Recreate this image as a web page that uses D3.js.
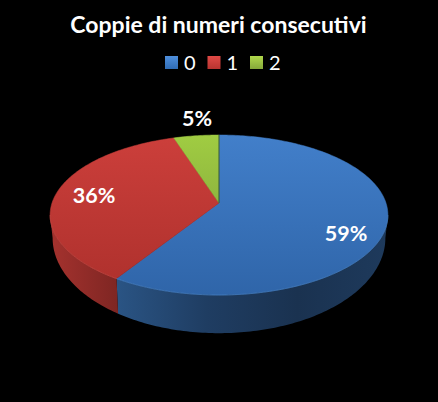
<!DOCTYPE html>
<html>
<head>
<meta charset="utf-8">
<script src="https://cdn.jsdelivr.net/npm/d3@7"></script>
<style>
  html, body { margin: 0; padding: 0; background: #000; }
  svg { display: block; }
  text { font-family: Lato, "Open Sans", sans-serif; fill: #fff; }
</style>
</head>
<body>
<svg id="chart"></svg>
<script>
// Chart values
const categories = ["0", "1", "2"];
const percentages = [59, 36, 5];
const chartTitle = "Coppie di numeri consecutivi";

// Colours per slice: top light, top dark, wall stops
const topColors = [["#427fca", "#2f65a9"], ["#cc3f3b", "#ad302c"], ["#a0cc42", "#78993a"]];
const wallColors = [["#2a5484", "#1f3d62", "#1a3250", "#1e3a5c"], ["#a5322e", "#7f2623"], ["#78993a", "#78993a"]];
const legendColors = [["#4f8fdc", "#2f6cb5"], ["#e04a46", "#b83430"], ["#b0d84c", "#85a83a"]];

const width = 438;
const height = 402;

const svg = d3.select("#chart").attr("width", width).attr("height", height);
svg.append("rect").attr("width", width).attr("height", height).attr("fill", "#000");
const defs = svg.append("defs");

// Pie geometry: a tilted disc seen in perspective
const cx = 219, cy = 203;
const rx = 167, ry = 78.2, persp = 0.15;

function project(a) {
  const u = Math.sin(a), v = Math.cos(a);
  const w = 1 + persp * v;
  return [cx + rx * u / w, cy - ry * v / w];
}

// The lower rim is a bit narrower and deeper than the top one
function lowerRim(p) {
  return [cx + (p[0] - cx) * 0.985, cy + (p[1] - cy) * 1.19 + 20.7];
}

const pie = d3.pie().sort(null);
const arcs = pie(percentages);
const line = d3.line();

function arcPoints(a0, a1) {
  const n = Math.max(2, Math.ceil((a1 - a0) * 60));
  return d3.range(n + 1).map(i => project(a0 + (a1 - a0) * i / n));
}

// Gradients
topColors.forEach((c, i) => {
  const g = defs.append("linearGradient").attr("id", "top" + i)
    .attr("gradientUnits", "userSpaceOnUse")
    .attr("x1", 0).attr("x2", 0).attr("y1", cy - 68).attr("y2", cy + 92);
  g.append("stop").attr("offset", 0).attr("stop-color", c[0]);
  g.append("stop").attr("offset", 1).attr("stop-color", c[1]);
});

// Front wall, only between the two silhouette points
const wallStart = Math.acos(-persp);
const wallEnd = 2 * Math.PI - wallStart;
const wallGroup = svg.append("g");
arcs.forEach((d, i) => {
  const a0 = Math.max(d.startAngle, wallStart);
  const a1 = Math.min(d.endAngle, wallEnd);
  if (a1 <= a0) return;
  const pts = arcPoints(a0, a1);
  const xs = d3.extent(pts, p => p[0]);
  const g = defs.append("linearGradient").attr("id", "wall" + i)
    .attr("gradientUnits", "userSpaceOnUse")
    .attr("x1", xs[0]).attr("x2", xs[1]).attr("y1", 0).attr("y2", 0);
  wallColors[i].forEach((c, k) => {
    g.append("stop").attr("offset", k / (wallColors[i].length - 1)).attr("stop-color", c);
  });
  const lower = pts.slice().reverse().map(lowerRim);
  wallGroup.append("path")
    .attr("d", line(pts.concat(lower)) + "Z")
    .attr("fill", "url(#wall" + i + ")");
});

// Top face
svg.append("g").selectAll("path")
  .data(arcs)
  .enter().append("path")
  .attr("d", d => line([[cx, cy]].concat(arcPoints(d.startAngle, d.endAngle))) + "Z")
  .attr("fill", (d, i) => "url(#top" + i + ")")
  .attr("stroke", (d, i) => "url(#top" + i + ")")
  .attr("stroke-width", 0.5);

// Thin line where green meets blue
svg.append("path")
  .attr("d", line([[cx, cy], project(0)]))
  .attr("stroke", "#1d3a3a")
  .attr("stroke-width", 0.8)
  .attr("fill", "none");

// Light rim on the front edge
arcs.forEach((d, i) => {
  const a0 = Math.max(d.startAngle, wallStart);
  const a1 = Math.min(d.endAngle, wallEnd);
  if (a1 <= a0) return;
  svg.append("path")
    .attr("d", line(arcPoints(a0, a1)))
    .attr("fill", "none")
    .attr("stroke", i === 0 ? "#4d86c8" : "#cf4f4a")
    .attr("stroke-width", 0.8)
    .attr("stroke-opacity", 0.7);
});

// Data labels
const labelPos = [[346, 233], [94, 195], [197, 118]];
svg.append("g").selectAll("text")
  .data(percentages)
  .enter().append("text")
  .attr("x", (d, i) => labelPos[i][0])
  .attr("y", (d, i) => labelPos[i][1])
  .attr("dy", "0.36em")
  .attr("text-anchor", "middle")
  .attr("font-size", 21.5)
  .attr("font-weight", 700)
  .text(d => d + "%");

// Title
svg.append("text")
  .attr("x", 218.5)
  .attr("y", 33)
  .attr("text-anchor", "middle")
  .attr("font-size", 23)
  .attr("font-weight", 700)
  .text(chartTitle);

// Legend
const legendX = d3.scaleLinear().domain([0, 2]).range([165, 250]);
const legend = svg.append("g").selectAll("g")
  .data(categories)
  .enter().append("g")
  .attr("transform", (d, i) => "translate(" + legendX(i) + ",56)");

legendColors.forEach((c, i) => {
  const g = defs.append("linearGradient").attr("id", "leg" + i)
    .attr("x1", 0).attr("x2", 0).attr("y1", 0).attr("y2", 1);
  g.append("stop").attr("offset", 0).attr("stop-color", c[0]);
  g.append("stop").attr("offset", 1).attr("stop-color", c[1]);
});

legend.append("rect")
  .attr("width", 13)
  .attr("height", 13)
  .attr("fill", (d, i) => "url(#leg" + i + ")");

legend.append("text")
  .attr("x", 19)
  .attr("y", 13.5)
  .attr("font-size", 20)
  .text(d => d);
</script>
</body>
</html>
